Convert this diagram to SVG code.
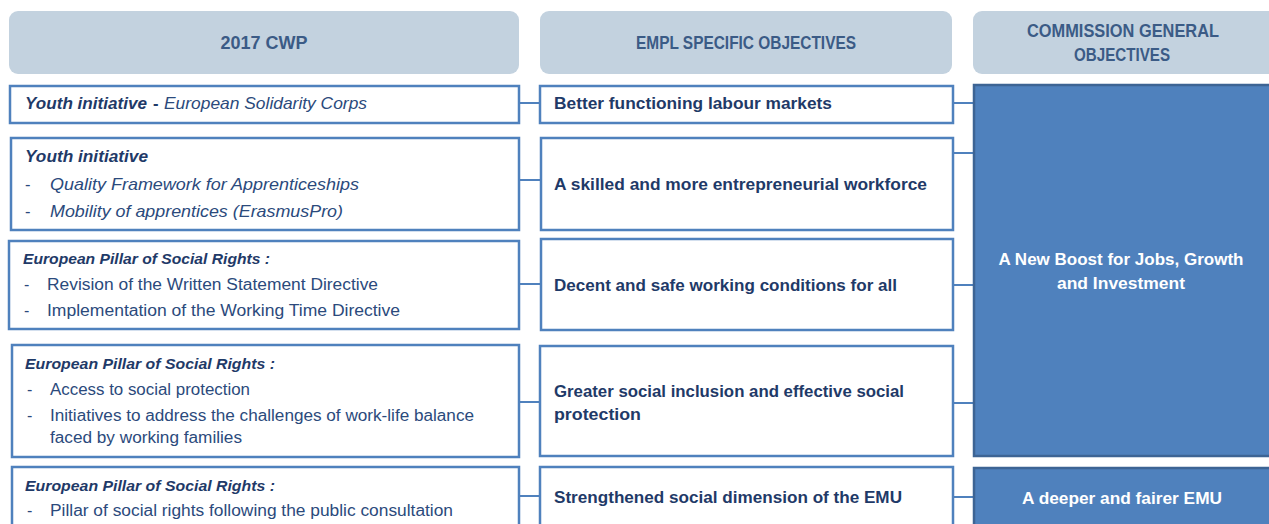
<svg xmlns="http://www.w3.org/2000/svg" width="1269" height="524" viewBox="0 0 1269 524">
<style>
text{font-family:"Liberation Sans",Arial,sans-serif}
.hdr{fill:#c3d2df}
.htx{fill:#3b5b86;font-weight:bold;font-size:17.5px;text-anchor:middle}
.box{fill:#ffffff;stroke:#4f81bd;stroke-width:2.5}
.big{fill:#4f81bd;stroke:#3d6494;stroke-width:2.5}
.mid{fill:#1f3a68;font-weight:bold;font-size:16.5px}
.bt{fill:#ffffff;font-weight:bold;font-size:17px;text-anchor:middle}
.bi{fill:#1f3a68;font-weight:bold;font-style:italic;font-size:16.5px}
.ph{fill:#1f3a68;font-weight:bold;font-style:italic;font-size:15px}
.it{fill:#2b4a7c;font-style:italic;font-size:16.5px}
.rg{fill:#2b4a7c;font-size:16px}
.con{stroke:#4f81bd;stroke-width:2;fill:none}
</style>
<rect width="1269" height="524" fill="#ffffff"/>
<g id="headers">
<g id="h1"><rect class="hdr" x="9" y="11" width="510" height="63" rx="9"/><text class="htx" x="264" y="49" textLength="87" lengthAdjust="spacingAndGlyphs">2017 CWP</text></g>
<g id="h2"><rect class="hdr" x="540" y="11" width="412" height="63" rx="9"/><text class="htx" x="746" y="49" textLength="220" lengthAdjust="spacingAndGlyphs">EMPL SPECIFIC OBJECTIVES</text></g>
<g id="h3"><rect class="hdr" x="973" y="11" width="310" height="63" rx="9"/><text class="htx" x="1123" y="37" textLength="192" lengthAdjust="spacingAndGlyphs">COMMISSION GENERAL</text><text class="htx" x="1122" y="61" textLength="96" lengthAdjust="spacingAndGlyphs">OBJECTIVES</text></g>
</g>
<g id="connectors">
<line class="con" x1="519" y1="103" x2="540" y2="103"/>
<line class="con" x1="519" y1="180" x2="541" y2="180"/>
<line class="con" x1="519" y1="284" x2="540" y2="284"/>
<line class="con" x1="519" y1="402" x2="540" y2="402"/>
<line class="con" x1="519" y1="496" x2="540" y2="496"/>
<line class="con" x1="953" y1="103" x2="973" y2="103"/>
<line class="con" x1="953" y1="153" x2="973" y2="153"/>
<line class="con" x1="953" y1="285" x2="973" y2="285"/>
<line class="con" x1="953" y1="403" x2="973" y2="403"/>
<line class="con" x1="953" y1="497" x2="973" y2="497"/>
</g>
<g id="cwp1"><rect class="box" x="10" y="86" width="509" height="37"/>
<text class="bi" x="25" y="109" textLength="122" lengthAdjust="spacingAndGlyphs">Youth initiative</text>
<text class="bi" x="153" y="109" style="font-style:normal">-</text>
<text class="it" x="164" y="109" textLength="203" lengthAdjust="spacingAndGlyphs">European Solidarity Corps</text></g>
<g id="cwp2"><rect class="box" x="11" y="138" width="508" height="92"/>
<text class="bi" x="25" y="162" textLength="123" lengthAdjust="spacingAndGlyphs">Youth initiative</text>
<text class="it" x="25" y="190" style="font-style:normal">-</text>
<text class="it" x="50" y="190" textLength="309" lengthAdjust="spacingAndGlyphs">Quality Framework for Apprenticeships</text>
<text class="it" x="25" y="217" style="font-style:normal">-</text>
<text class="it" x="50" y="217" textLength="293" lengthAdjust="spacingAndGlyphs">Mobility of apprentices (ErasmusPro)</text></g>
<g id="cwp3"><rect class="box" x="9" y="241" width="510" height="88"/>
<text class="ph" x="23" y="264" textLength="247" lengthAdjust="spacingAndGlyphs">European Pillar of Social Rights :</text>
<text class="rg" x="24" y="290">-</text>
<text class="rg" x="47" y="290" textLength="331" lengthAdjust="spacingAndGlyphs">Revision of the Written Statement Directive</text>
<text class="rg" x="24" y="316">-</text>
<text class="rg" x="47" y="316" textLength="353" lengthAdjust="spacingAndGlyphs">Implementation of the Working Time Directive</text></g>
<g id="cwp4"><rect class="box" x="12" y="345" width="507" height="112"/>
<text class="ph" x="25" y="369" textLength="250" lengthAdjust="spacingAndGlyphs">European Pillar of Social Rights :</text>
<text class="rg" x="27" y="395">-</text>
<text class="rg" x="50" y="395" textLength="200" lengthAdjust="spacingAndGlyphs">Access to social protection</text>
<text class="rg" x="27" y="421">-</text>
<text class="rg" x="50" y="421" textLength="424" lengthAdjust="spacingAndGlyphs">Initiatives to address the challenges of work-life balance</text>
<text class="rg" x="50" y="443" textLength="192" lengthAdjust="spacingAndGlyphs">faced by working families</text></g>
<g id="cwp5"><rect class="box" x="12" y="467" width="507" height="70"/>
<text class="ph" x="25" y="491" textLength="250" lengthAdjust="spacingAndGlyphs">European Pillar of Social Rights :</text>
<text class="rg" x="27" y="516">-</text>
<text class="rg" x="50" y="516" textLength="403" lengthAdjust="spacingAndGlyphs">Pillar of social rights following the public consultation</text></g>
<g id="obj1"><rect class="box" x="540" y="86" width="413" height="37"/>
<text class="mid" x="554" y="109" textLength="278" lengthAdjust="spacingAndGlyphs">Better functioning labour markets</text></g>
<g id="obj2"><rect class="box" x="541" y="138" width="412" height="92"/>
<text class="mid" x="554" y="190" textLength="373" lengthAdjust="spacingAndGlyphs">A skilled and more entrepreneurial workforce</text></g>
<g id="obj3"><rect class="box" x="541" y="239" width="412" height="91"/>
<text class="mid" x="554" y="291" textLength="343" lengthAdjust="spacingAndGlyphs">Decent and safe working conditions for all</text></g>
<g id="obj4"><rect class="box" x="540" y="346" width="413" height="110"/>
<text class="mid" x="554" y="397" textLength="350" lengthAdjust="spacingAndGlyphs">Greater social inclusion and effective social</text>
<text class="mid" x="554" y="420" textLength="87" lengthAdjust="spacingAndGlyphs">protection</text></g>
<g id="obj5"><rect class="box" x="540" y="467" width="413" height="70"/>
<text class="mid" x="554" y="503" textLength="348" lengthAdjust="spacingAndGlyphs">Strengthened social dimension of the EMU</text></g>
<g id="gen1"><rect class="big" x="974" y="85" width="310" height="371"/>
<text class="bt" x="1121" y="265" textLength="245" lengthAdjust="spacingAndGlyphs">A New Boost for Jobs, Growth</text>
<text class="bt" x="1121" y="289" textLength="128" lengthAdjust="spacingAndGlyphs">and Investment</text></g>
<g id="gen2"><rect class="big" x="974" y="468" width="310" height="70"/>
<text class="bt" x="1122" y="504" textLength="200" lengthAdjust="spacingAndGlyphs">A deeper and fairer EMU</text></g>
</svg>
